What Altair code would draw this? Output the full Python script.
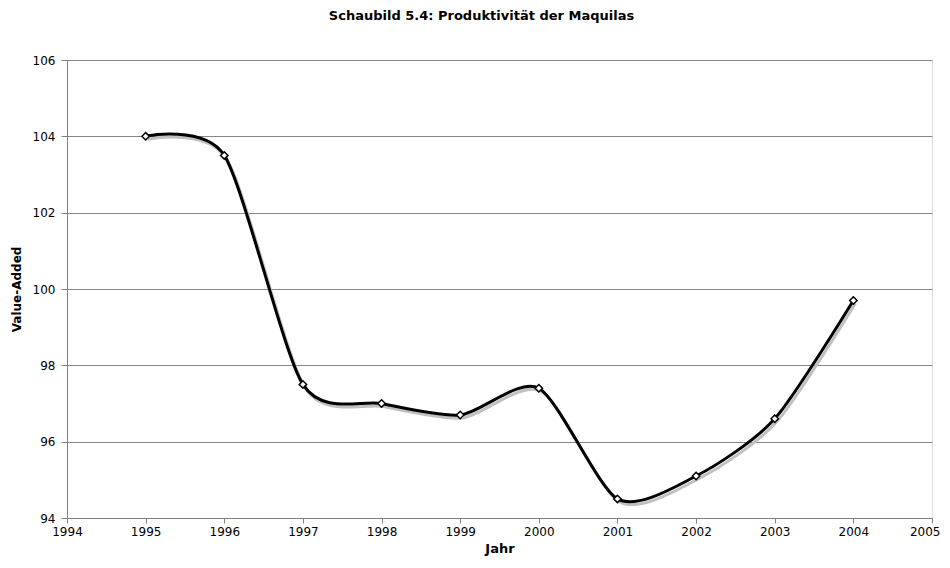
import altair as alt
import pandas as pd

years = [1995, 1996, 1997, 1998, 1999, 2000, 2001, 2002, 2003, 2004]
values = [104.0, 103.5, 97.5, 97.0, 96.7, 97.4, 94.5, 95.1, 96.6, 99.7]
x_ticks = list(range(1994, 2006))
y_ticks = [94, 96, 98, 100, 102, 104, 106]

df = pd.DataFrame({"Jahr": years, "Value": values})

FONT = "DejaVu Sans"

x = alt.X(
    "Jahr:Q",
    scale=alt.Scale(domain=[1994, 2005], nice=False, zero=False),
    axis=alt.Axis(
        values=x_ticks, format="d", grid=False, title="Jahr",
        labelFont=FONT, labelFontSize=12, labelColor="black", labelPadding=3,
        labelAlign={"expr": "datum.value == 2005 ? 'right' : 'center'"},
        labelOffset={"expr": "datum.value == 2005 ? 8 : 0"},
        tickSize=5, tickColor="#808080", domainColor="#808080",
        titleFont=FONT, titleFontSize=13, titleFontWeight="bold", titleColor="black",
        titlePadding=5, labelFlush=False, labelOverlap=False,
    ),
)
y = alt.Y(
    "Value:Q",
    scale=alt.Scale(domain=[94, 106], nice=False, zero=False),
    axis=alt.Axis(
        values=y_ticks, grid=True, gridColor="#868686", gridWidth=1,
        title="Value-Added",
        labelFont=FONT, labelFontSize=12, labelColor="black", labelPadding=6,
        tickSize=6, tickColor="#808080", domainColor="#808080",
        titleFont=FONT, titleFontSize=12, titleFontWeight="bold", titleColor="black",
        titlePadding=9, labelFlush=False, labelOverlap=False,
    ),
)

base = alt.Chart(df)
shadow = base.mark_line(
    interpolate="cardinal", tension=0.25, color="#c0c0c0", strokeWidth=3,
    xOffset=2, yOffset=3,
).encode(x=x, y=y)
line = base.mark_line(
    interpolate="cardinal", tension=0.25, color="black", strokeWidth=3,
).encode(x=x, y=y)
pts = base.mark_point(
    shape="diamond", filled=True, fill="white", stroke="black",
    strokeWidth=1.5, size=55, opacity=1,
).encode(x=x, y=y)

chart = (
    alt.layer(shadow, line, pts)
    .properties(
        width=865, height=458,
        autosize="none",
        padding={"left": 59, "top": 52, "right": 10, "bottom": 40},
        title=alt.TitleParams(
            "Schaubild 5.4: Produktivität der Maquilas",
            font=FONT, fontSize=13, fontWeight="bold", color="black",
            anchor="middle", offset=31, dx=-18,
        ),
    )
    .configure_view(stroke="#a6a6a6", strokeWidth=1.5)
    .configure(background="white")
)

chart.save("out.html", embed_options={"renderer": "svg", "actions": False})
